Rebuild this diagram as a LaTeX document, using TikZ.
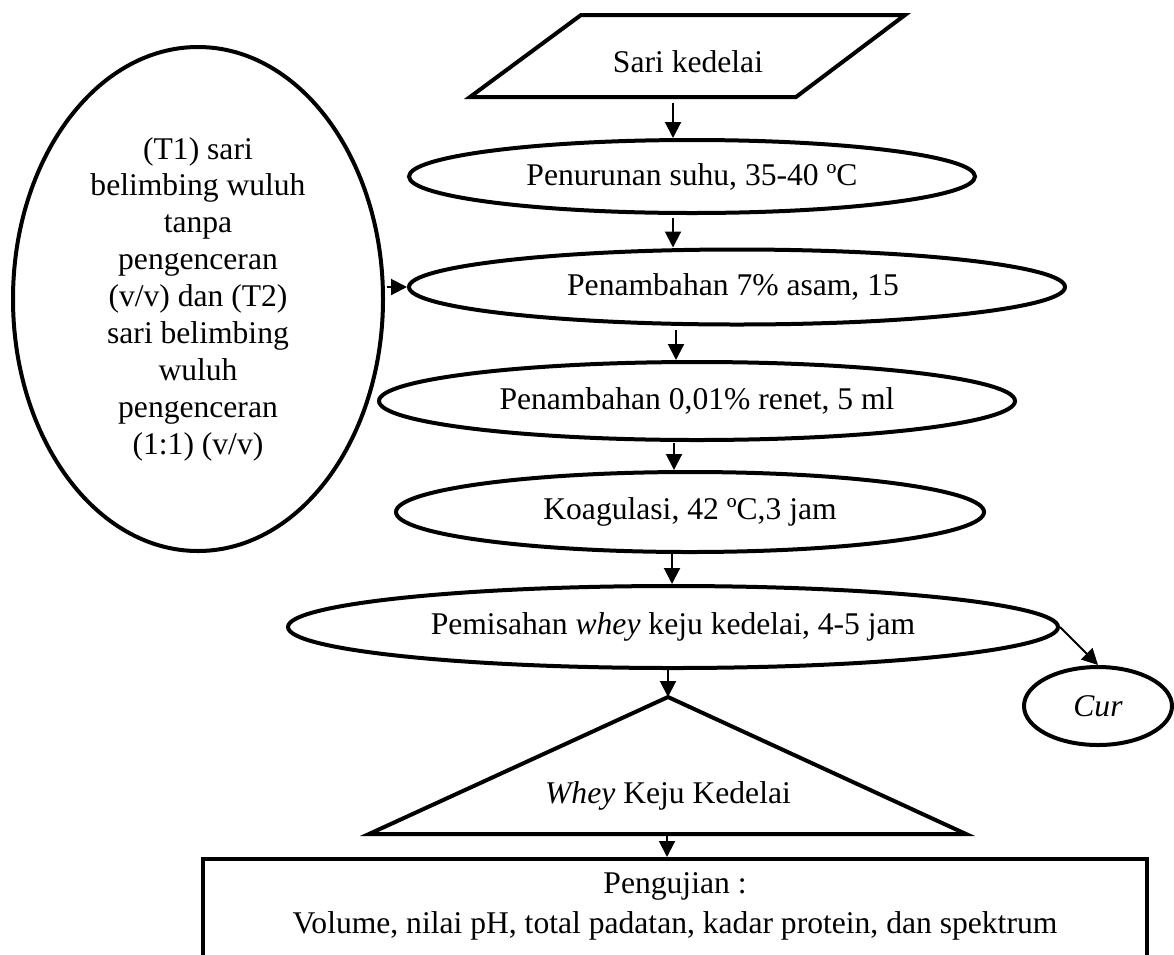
\documentclass[tikz,border=0pt]{standalone}
\usepackage{fontspec}
\setmainfont{Liberation Serif}
\usetikzlibrary{shapes.geometric,arrows.meta}
\begin{document}
\begin{tikzpicture}[x=1pt,y=-1pt,
  every node/.style={font=\fontsize{31.6}{36.9}\selectfont},
  shp/.style={draw,line width=4pt},
  oval/.style={shp,ellipse,inner sep=0pt},
  arr/.style={line width=2pt,-{Triangle[length=16pt,width=16pt]}},
]
\useasboundingbox (0,0) rectangle (1174,954);
\clip (0,0) rectangle (1174,954);
\fill[white] (0,0) rectangle (1174,954);

% parallelogram
\coordinate (pTL) at (581,15);
\coordinate (pTR) at (905,15);
\coordinate (pBR) at (796,97);
\coordinate (pBL) at (470,97);
\draw[shp,line join=miter] (pTL) -- (pTR) -- (pBR) -- (pBL) -- cycle;
\node (sari) at (688,62) {Sari kedelai};
\coordinate (pB) at (688,97);

% ovals
\node[oval,minimum width=566pt,minimum height=73pt] (e1) at (692,176.5) {Penurunan suhu, 35-40 ºC};
\node[oval,minimum width=656pt,minimum height=75pt] (e2) at (737,287) {\hspace*{-8pt}Penambahan 7\% asam, 15};
\node[oval,minimum width=636pt,minimum height=78pt] (e3) at (697,401) {Penambahan 0,01\% renet, 5 ml};
\node[oval,minimum width=588pt,minimum height=80pt] (e4) at (690,512) {Koagulasi, 42 ºC,3 jam};
\node[oval,minimum width=770pt,minimum height=82pt] (e5) at (673,627) {Pemisahan \textit{whey} keju kedelai, 4-5 jam};
\node[oval,minimum width=148pt,minimum height=78pt] (cur) at (1098,706) {\textit{Cur}};
\node[oval,minimum width=370pt,minimum height=504pt,align=center] (left) at (198,299)
  {(T1) sari\\belimbing wuluh\\tanpa\\pengenceran\\(v/v) dan (T2)\\sari belimbing\\wuluh\\pengenceran\\(1:1) (v/v)};

% triangle
\coordinate (tA) at (668,697);
\coordinate (tR) at (966,834);
\coordinate (tL) at (369,834);
\draw[shp,line join=miter] (tA) -- (tR) -- (tL) -- cycle;
\node (tri) at (668,796) {\textit{Whey} Keju Kedelai};

% box
\node[shp,minimum width=944pt,minimum height=200pt,inner sep=0pt,anchor=north] (box) at (675,857) {};
\node (peng) at (675,886) {Pengujian :};
\node (vol) at (675,926) {Volume, nilai pH, total padatan, kadar protein, dan spektrum};

% arrow x positions
\coordinate (x1) at (673,0);
\coordinate (x3) at (676,0);
\coordinate (x4) at (674,0);
\coordinate (x5) at (672,0);
\coordinate (x6) at (668,0);
\coordinate (x7) at (667,0);

\draw[arr,shorten <=6pt] (pB -| x1) -- (e1.north -| x1);
\draw[arr,shorten <=3pt] (e1.south -| x1) -- (e2.north -| x1);
\draw[arr,shorten <=3pt] (e2.south -| x3) -- (e3.north -| x3);
\draw[arr,shorten <=1pt] (e3.south -| x4) -- (e4.north -| x4);
\draw[arr,shorten <=0pt] (e4.south -| x5) -- (e5.north -| x5);
\draw[arr] (e5.south -| x6) -- (tA -| x6);
\draw[arr,shorten <=2pt] (tL -| x7) -- (box.north -| x7);
\draw[arr,shorten <=2pt] (left.east |- e2.west) -- (e2.west);
\draw[arr] (e5.east) -- (cur.north);
\end{tikzpicture}
\end{document}
